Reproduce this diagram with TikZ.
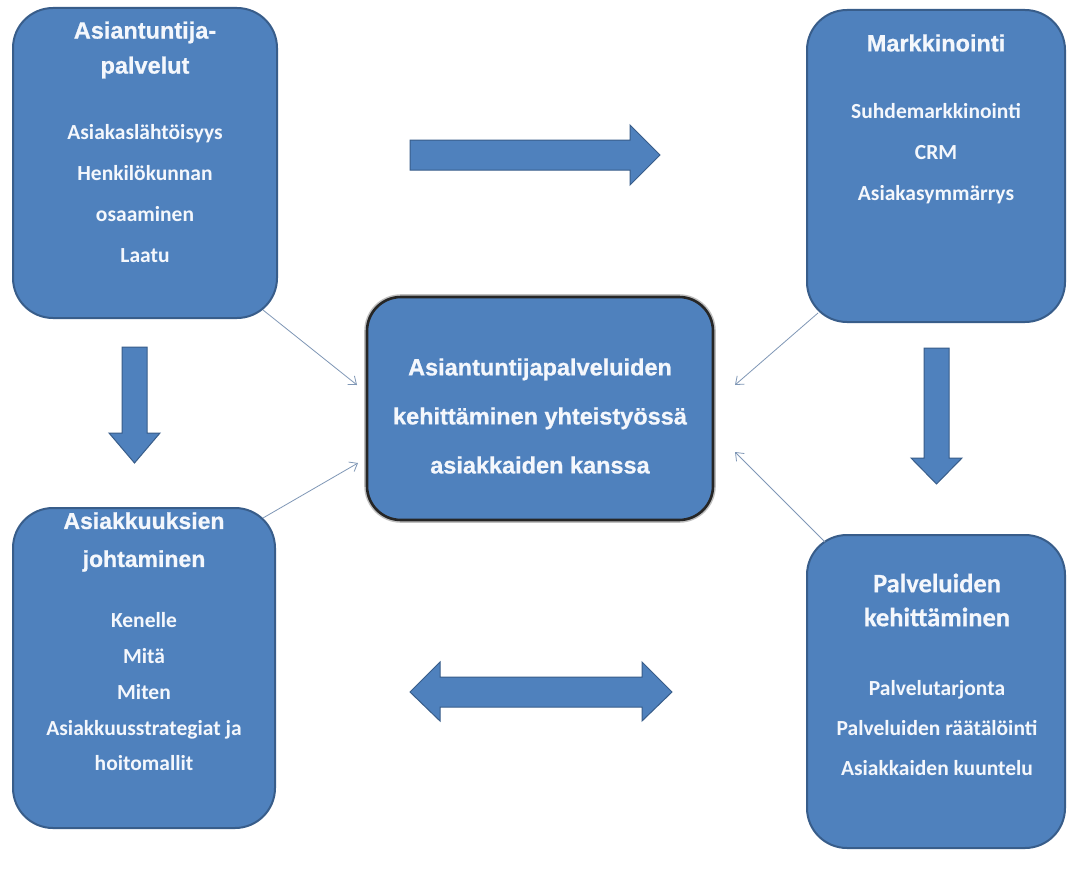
\documentclass[tikz,border=0pt]{standalone}
\usepackage{fontspec}
\setmainfont{Liberation Sans}
\newfontfamily\calfont{Carlito}
\newfontfamily\titlefont[FakeBold=0.8]{Liberation Sans Bold}
\newfontfamily\caltitlefont[FakeBold=0.6]{Carlito Bold}
\usetikzlibrary{arrows.meta,calc}
\definecolor{boxblue}{HTML}{4F81BD}
\definecolor{boxedge}{HTML}{385D8A}
\definecolor{linkcol}{HTML}{7F97B6}
\definecolor{txtcol}{HTML}{F4F7FC}
\begin{document}
\begin{tikzpicture}[x=1pt,y=-1pt,
  box/.style={rectangle, rounded corners=40pt, fill=boxblue, draw=boxedge, line width=2pt, inner sep=0pt, outer sep=0pt},
  centbox/.style={rectangle, rounded corners=34pt, fill=boxblue, draw=black!85, line width=2.6pt, inner sep=0pt, outer sep=0pt},
  titletxt/.style={text=txtcol, align=center, font=\titlefont\fontsize{23.5}{35}\selectfont, inner sep=0pt},
  itemtxt/.style={text=txtcol, align=center, font=\calfont\bfseries\fontsize{21.5}{41}\selectfont, inner sep=0pt},
  blockarrow/.style={fill=boxblue, draw=boxedge, line width=1pt, line join=miter},
  link/.style={draw=linkcol, line width=0.8pt, -{Straight Barb[length=7pt,width=11pt]}}
]
\useasboundingbox (0,0) rectangle (1067,888);
\fill[white] (0,0) rectangle (1067,888);

% boxes
\node[box, minimum width=264pt, minimum height=310pt] (tl) at (145,163) {};
\node[box, minimum width=258pt, minimum height=312pt] (tr) at (936,166) {};
\node[box, minimum width=262pt, minimum height=320pt] (bl) at (144,668) {};
\node[box, minimum width=258pt, minimum height=313pt] (br) at (936,691.5) {};
\draw[black!25, line width=5.6pt, rounded corners=34pt] (367,297) rectangle (713,520);
\node[centbox, minimum width=346pt, minimum height=223pt] (cen) at (540,408.5) {};

% texts
\node[titletxt] (tlt) at (145,50) {Asiantuntija-\\palvelut};
\node[itemtxt] (tli) at (145,194) {Asiakaslähtöisyys\\Henkilökunnan\\osaaminen\\Laatu};
\node[titletxt] (trt) at (936,43) {Markkinointi};
\node[itemtxt] (tri) at (936,154) {Suhdemarkkinointi\\CRM\\Asiakasymmärrys};
\node[titletxt, font=\titlefont\fontsize{23}{38}\selectfont] (blt) at (144,542) {Asiakkuuksien\\johtaminen};
\node[itemtxt, font=\calfont\bfseries\fontsize{21.5}{35.75}\selectfont] (bli) at (144,692) {Kenelle\\Mitä\\Miten\\Asiakkuusstrategiat ja\\hoitomallit};
\node[titletxt, font=\caltitlefont\fontsize{26.5}{34}\selectfont] (brt) at (937,600) {Palveluiden\\kehittäminen};
\node[itemtxt, font=\calfont\bfseries\fontsize{21.5}{40}\selectfont] (bri) at (937,728) {Palvelutarjonta\\Palveluiden räätälöinti\\Asiakkaiden kuuntelu};
\node[titletxt, font=\titlefont\fontsize{23.5}{49}\selectfont] (cent) at (540,416) {Asiantuntijapalveluiden\\kehittäminen yhteistyössä\\asiakkaiden kanssa};

% block arrows
\path[blockarrow] (410,140) -- (630,140) -- (630,125) -- (660,155) -- (630,185) -- (630,170) -- (410,170) -- cycle;
\path[blockarrow] (122,347) -- (147,347) -- (147,433) -- (160,433) -- (134.5,463) -- (109,433) -- (122,433) -- cycle;
\path[blockarrow] (924,348) -- (949,348) -- (949,458) -- (962,458) -- (936.5,484) -- (911,458) -- (924,458) -- cycle;
\path[blockarrow] (410,692) -- (440,662) -- (440,677) -- (642,677) -- (642,662) -- (672,692) -- (642,721) -- (642,707) -- (440,707) -- (440,721) -- cycle;

% thin connectors
\coordinate (s1) at ($(tl.south east)+(-14,-8)$);
\coordinate (s2) at ($(bl.north east)+(-12,10)$);
\coordinate (s3) at ($(tr.south west)+(11,-9)$);
\coordinate (s4) at ($(br.north west)+(18,7)$);
\coordinate (e1) at (357,385);
\coordinate (e2) at (358,463);
\coordinate (e3) at (735,385);
\coordinate (e4) at (735,452);
\draw[link] (s1) -- (e1);
\draw[link] (s2) -- (e2);
\draw[link] (s3) -- (e3);
\draw[link] (s4) -- (e4);
\end{tikzpicture}
\end{document}
